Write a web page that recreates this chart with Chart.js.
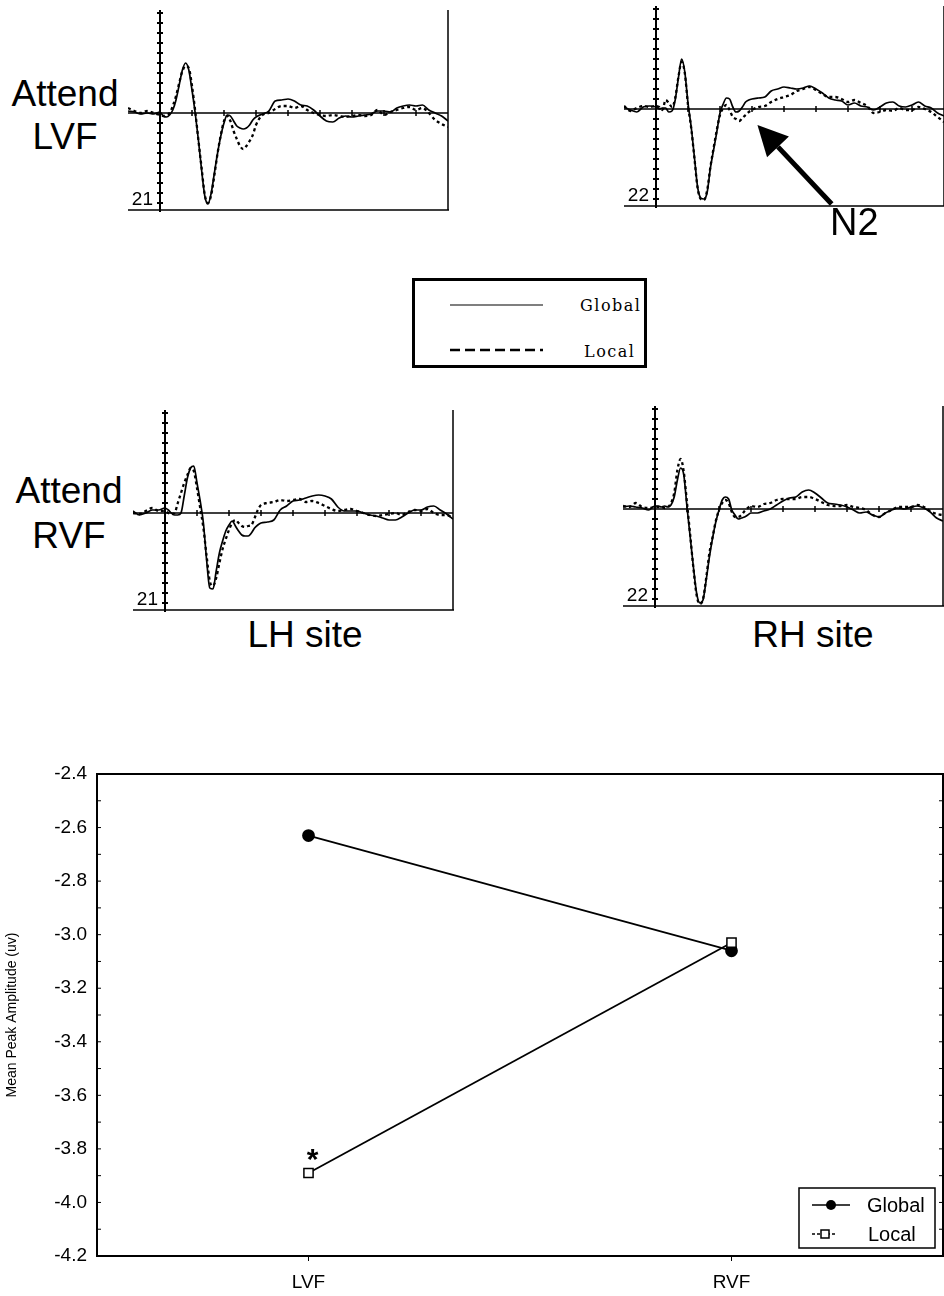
<!DOCTYPE html>
<html>
<head>
<meta charset="utf-8">
<title>N2 amplitude: global vs local</title>
<script src="https://cdn.jsdelivr.net/npm/chart.js@4.4.1/dist/chart.umd.min.js"></script>
<style>
  html, body { margin: 0; padding: 0; background: #fff; }
  body { width: 944px; height: 1296px; position: relative; overflow: hidden;
         font-family: 'Liberation Sans', Arial, sans-serif; color: #000; }
  canvas { position: absolute; }
  .cond { position: absolute; width: 136px; text-align: center; font-size: 37px; }
  .site { position: absolute; width: 200px; text-align: center; font-size: 37px; line-height: 43px; }
  #n2 { position: absolute; left: 830px; top: 202px; font-size: 38px; line-height: 40px; z-index: 2; }
  #key { position: absolute; left: 412px; top: 278px; }
</style>
</head>
<body>

<div class="cond" style="left:-3px; top:72px; line-height:43px;">Attend<br>LVF</div>
<div class="cond" style="left:1px; top:468px; line-height:45px;">Attend<br>RVF</div>
<div class="site" style="left:205px; top:613px;">LH site</div>
<div class="site" style="left:713px; top:613px;">RH site</div>
<div id="n2">N2</div>

<svg id="key" width="236" height="91" xmlns="http://www.w3.org/2000/svg">
  <rect x="1.5" y="1.5" width="232" height="87" fill="#fff" stroke="#000" stroke-width="3"/>
  <line x1="38" y1="27" x2="131" y2="27" stroke="#000" stroke-width="1.2"/>
  <line x1="38" y1="72" x2="131" y2="72" stroke="#000" stroke-width="2.5" stroke-dasharray="10 5"/>
  <text x="168" y="33" font-family="'DejaVu Serif', serif" font-size="16" letter-spacing="1.5">Global</text>
  <text x="172" y="79" font-family="'DejaVu Serif', serif" font-size="16" letter-spacing="1.5">Local</text>
</svg>

<canvas id="lvfLh"></canvas>
<canvas id="lvfRh"></canvas>
<canvas id="rvfLh"></canvas>
<canvas id="rvfRh"></canvas>
<canvas id="amplitude"></canvas>

<script>
/* ----- waveform data (ms, amplitude in axis ticks) ----- */
const times = [-100, -80, -60, -40, -20,
  0, 10, 20, 30, 40, 50, 60, 70, 80, 90,
  100, 110, 120, 130, 140, 150, 160, 170, 180, 190,
  200, 210, 220, 230, 240, 250, 260, 270, 280, 290,
  300,
  320, 340, 360, 380, 400, 420, 440, 460, 480, 500,
  520, 540, 560, 580, 600, 620, 640, 660, 680, 700,
  720, 740, 760, 780, 800, 820, 840, 860, 880, 900];

const lvfLhGlobal = [0.2, 0.1, -0.1, 0, -0.1,
  0.1, -0.3, -0.4, -0.2, 0.3, 1.3, 2.8, 4.3, 5.0, 4.3,
  2.3, 0, -2.7, -5.7, -8.3, -9.1, -8.0, -6.0, -4.0, -2.3,
  -1.0, -0.2, -0.3, -0.8, -1.3, -1.5, -1.6, -1.5, -1.2, -0.7,
  -0.4,
  -0.1, 0.2, 1.2, 1.3, 1.4, 1.2, 0.8, 0.7, 0.3, -0.3,
  -0.8, -0.9, -0.5, -0.3, -0.4, -0.3, -0.2, -0.1, 0.2, 0.2,
  0.1, 0.5, 0.7, 0.8, 0.7, 0.8, 0.3, 0, -0.3, -0.8];
const lvfLhLocal = [0.5, 0.2, 0, 0.2, 0,
  -0.2, -0.3, -0.2, 0, 0.7, 1.7, 3.0, 4.2, 4.7, 4.5,
  2.7, 0.2, -2.7, -5.5, -8.2, -9.0, -8.2, -6.2, -4.0, -2.2,
  -0.8, -0.3, -0.8, -1.8, -2.6, -3.3, -3.6, -3.3, -2.8, -2.2,
  -1.2,
  -0.2, 0, 0.4, 0.7, 0.7, 0.5, 0.7, 0.3, 0, -0.2,
  -0.3, -0.2, -0.3, -0.4, -0.3, -0.2, -0.3, -0.2, 0.3, -0.2,
  0.1, 0.3, 0.5, 0.6, 0.3, 0.5, 0, -0.7, -1.1, -1.4];

const lvfRhGlobal = [0.2, -0.1, -0.3, 0.2, 0.3,
  0.2, 0, 0.1, 0.1, -0.3, -0.2, 0.9, 3.1, 5.0, 3.7,
  0.6, -1.8, -4.8, -7.8, -8.9, -9.0, -8.3, -5.9, -4.1, -2.3,
  -0.4, 0.5, 1.1, 1.0, 0.2, -0.3, -0.2, 0.2, 0.7, 0.9,
  1.0,
  1.1, 1.2, 1.8, 2.0, 2.2, 2.1, 2.0, 2.1, 2.3, 2.0,
  1.6, 1.1, 0.9, 0.8, 0.4, 0.6, 0.3, 0.2, -0.1, 0.2,
  0.6, 0.7, 0.3, 0.2, 0.4, 0.7, 0.3, 0.1, -0.4, -0.7];
const lvfRhLocal = [0.3, -0.2, 0.1, 0.3, 0.2,
  0.3, 0.2, -0.1, 0.9, 0.6, 0.2, 1.1, 3.2, 4.7, 3.6,
  0.4, -1.9, -4.9, -7.9, -9.0, -9.1, -8.1, -5.8, -3.9, -2.1,
  -0.6, 0.1, 0.4, -0.1, -0.8, -1.0, -1.2, -0.9, -0.6, -0.3,
  -0.1,
  0.2, 0.3, 0.7, 1.0, 1.2, 1.4, 1.8, 2.0, 2.2, 1.9,
  1.5, 1.2, 1.2, 1.0, 0.7, 0.9, 0.6, 0.3, -0.4, -0.3,
  -0.1, -0.2, 0.1, -0.1, -0.1, 0.2, 0, -0.3, -0.8, -1.3];

const rvfLhGlobal = [0.2, -0.2, 0, 0.3, 0.3,
  0.5, 0.3, 0, -0.2, -0.2, 0, 1.7, 3.5, 4.5, 4.7,
  3.0, 1.2, -1.0, -4.7, -7.5, -7.6, -5.8, -4.0, -2.8, -1.8,
  -1.2, -0.8, -1.3, -1.8, -2.2, -2.3, -2.3, -2.0, -1.5, -1.2,
  -1.0,
  -0.9, -0.7, 0.3, 0.7, 1.2, 1.3, 1.5, 1.7, 1.8, 1.7,
  1.4, 0.6, 0.2, 0.2, 0.2, 0, -0.2, -0.3, -0.5, -0.7,
  -0.7, -0.4, 0, 0.3, 0.3, 0.6, 0.7, 0.3, -0.1, -0.6];
const rvfLhLocal = [0, -0.1, 0.2, 0.5, 0.2,
  0.2, 0, -0.1, 0, 1.0, 2.0, 3.0, 3.8, 4.5, 4.2,
  2.5, 0.5, -1.5, -4.3, -6.8, -7.3, -6.5, -5.0, -3.6, -2.6,
  -1.7, -1.0, -0.7, -1.0, -1.3, -1.4, -1.3, -1.2, -0.5, 0.3,
  0.8,
  1.0, 1.1, 1.3, 1.2, 1.3, 1.4, 1.1, 1.2, 1.0, 0.7,
  0.4, 0.2, 0.3, 0.4, 0.2, 0, -0.2, -0.3, -0.2, -0.1,
  0, -0.2, 0.1, 0.3, 0.2, 0.4, 0, -0.2, -0.2, -0.5];

const rvfRhGlobal = [0.2, 0.3, 0.2, 0.1, -0.1,
  0.3, 0.3, 0.2, 0.3, 0.2, 0.4, 1.2, 2.9, 4.1, 3.4,
  0.2, -2.8, -5.8, -8.4, -9.4, -9.1, -7.1, -4.8, -2.9, -1.3,
  -0.1, 0.9, 1.2, 1.0, -0.1, -0.6, -1.0, -0.9, -0.8, -0.6,
  -0.4,
  -0.4, -0.2, 0, 0.4, 0.8, 1.1, 1.2, 1.7, 1.9, 1.6,
  1.1, 0.6, 0.5, 0.4, 0.2, -0.1, -0.4, -0.3, -0.6, -0.8,
  -0.4, -0.1, 0.1, 0, 0.2, 0.3, 0.1, -0.3, -0.9, -1.2];
const rvfRhLocal = [0.3, 0.2, 0.6, 0.2, 0.1,
  0.2, 0.2, 0.2, 0.1, 0.2, 0.6, 1.6, 3.9, 5.0, 3.7,
  0.6, -2.6, -5.9, -8.6, -9.5, -9.0, -6.9, -4.4, -2.8, -1.2,
  -0.1, 0.6, 0.9, 0.6, -0.3, -0.8, -0.8, -0.6, -0.2, 0.1,
  0.3,
  0.2, 0.5, 0.6, 0.9, 1.0, 1.0, 1.0, 1.2, 1.2, 1.0,
  0.7, 0.4, 0.3, 0.3, 0.4, 0.2, 0.1, -0.1, -0.6, -0.8,
  -0.4, -0.1, 0.2, 0.2, 0.2, 0.4, 0.2, -0.2, -0.5, -0.6];

const ampTicks = [-9, -8, -7, -6, -5, -4, -3, -2, -1, 1, 2, 3, 4, 5, 6, 7, 8, 9, 10];
const timeTicks = [100, 200, 300, 400, 500, 600, 700, 800];

/* ----- mean N2 peak amplitude ----- */
const fields = ['LVF', 'RVF'];
const globalAmp = [-2.63, -3.06];
const localAmp = [-3.89, -3.03];

Chart.defaults.font.family = "'Liberation Sans', Arial, sans-serif";
Chart.defaults.color = '#000';

// axes of a single ERP panel: baseline, onset axis with cross ticks, frame
const erpFrame = {
  id: 'erpFrame',
  beforeDatasetsDraw(chart, args, opts) {
    const { ctx, scales: { x, y } } = chart;
    const x0 = x.getPixelForValue(0), y0 = y.getPixelForValue(0);
    const xl = x.getPixelForValue(x.min), xr = x.getPixelForValue(x.max);
    const yb = y.getPixelForValue(y.min), yt = y.getPixelForValue(opts.axisTop);
    ctx.save();
    ctx.strokeStyle = '#000';
    ctx.lineWidth = 1.5;
    ctx.beginPath();
    ctx.moveTo(xl, y0); ctx.lineTo(xr, y0);
    ctx.moveTo(xl, yb); ctx.lineTo(xr + 1, yb);
    ctx.moveTo(xr, yt); ctx.lineTo(xr, yb);
    ctx.stroke();

    ctx.lineWidth = 2;
    ctx.beginPath();
    ctx.moveTo(x0, yt); ctx.lineTo(x0, yb + 2);
    ampTicks.forEach(v => {
      const py = y.getPixelForValue(v);
      ctx.moveTo(x0 - 3, py); ctx.lineTo(x0 + 3, py);
    });
    ctx.stroke();

    ctx.lineWidth = 1.5;
    ctx.beginPath();
    timeTicks.forEach(t => {
      const px = x.getPixelForValue(t);
      ctx.moveTo(px, y0 - 3); ctx.lineTo(px, y0 + 3);
    });
    ctx.stroke();

    ctx.font = "19px 'Liberation Sans', Arial, sans-serif";
    ctx.fillStyle = '#000';
    ctx.textAlign = 'right';
    ctx.textBaseline = 'alphabetic';
    ctx.fillText(opts.scaleLabel, x0 - 7, y.getPixelForValue(-9.2));
    ctx.restore();
  },
  afterDatasetsDraw(chart, args, opts) {
    if (!opts.arrow) return;
    const { ctx, scales: { x, y } } = chart;
    const tx = x.getPixelForValue(opts.arrow.to[0]), ty = y.getPixelForValue(opts.arrow.to[1]);
    const fx = x.getPixelForValue(opts.arrow.from[0]), fy = y.getPixelForValue(opts.arrow.from[1]);
    const ang = Math.atan2(ty - fy, tx - fx);
    const head = 30, half = 15;
    const bx = tx - head * Math.cos(ang), by = ty - head * Math.sin(ang);
    ctx.save();
    ctx.strokeStyle = '#000';
    ctx.fillStyle = '#000';
    ctx.lineWidth = 5;
    ctx.beginPath();
    ctx.moveTo(fx, fy); ctx.lineTo(bx, by);
    ctx.stroke();
    ctx.beginPath();
    ctx.moveTo(tx, ty);
    ctx.lineTo(bx + half * Math.sin(ang), by - half * Math.cos(ang));
    ctx.lineTo(bx - half * Math.sin(ang), by + half * Math.cos(ang));
    ctx.closePath();
    ctx.fill();
    ctx.restore();
  }
};

const PAD = 14;
function makePanel(id, left, top, globalVals, localVals, label, arrow) {
  const cv = document.getElementById(id);
  cv.width = 320 + 2 * PAD;
  cv.height = 197 + 2 * PAD;
  cv.style.left = (left - PAD) + 'px';
  cv.style.top = (top - PAD) + 'px';
  return new Chart(cv, {
    type: 'line',
    data: {
      labels: times,
      datasets: [
        { label: 'Global', data: globalVals, borderColor: '#000', borderWidth: 1.7 },
        { label: 'Local', data: localVals, borderColor: '#000', borderWidth: 2.3, borderDash: [3, 3] }
      ]
    },
    options: {
      responsive: false,
      animation: false,
      events: [],
      layout: { padding: PAD },
      elements: { point: { radius: 0 }, line: { cubicInterpolationMode: 'monotone' } },
      scales: {
        x: { type: 'linear', min: -100, max: 900, display: false },
        y: { min: -9.7, max: 10, display: false }
      },
      plugins: {
        legend: { display: false },
        tooltip: { enabled: false },
        erpFrame: { axisTop: 10.3, scaleLabel: label, arrow: arrow }
      }
    },
    plugins: [erpFrame]
  });
}

makePanel('lvfLh', 128, 13, lvfLhGlobal, lvfLhLocal, '21', null);
makePanel('lvfRh', 624, 9, lvfRhGlobal, lvfRhLocal, '22', { from: [549, -9.5], to: [317, -1.6] });
makePanel('rvfLh', 133, 413, rvfLhGlobal, rvfLhLocal, '21', null);
makePanel('rvfRh', 623, 409, rvfRhGlobal, rvfRhLocal, '22', null);

// closed frame, inward minor ticks, significance mark and key for the means plot
const plotFrame = {
  id: 'plotFrame',
  afterDraw(chart, args, opts) {
    const { ctx, chartArea: a, scales: { y } } = chart;
    ctx.save();
    ctx.strokeStyle = '#000';
    ctx.fillStyle = '#000';
    ctx.lineWidth = 2;
    ctx.strokeRect(a.left, a.top, a.right - a.left, a.bottom - a.top);

    ctx.lineWidth = 1;
    ctx.beginPath();
    y.ticks.forEach(t => {
      const py = y.getPixelForValue(t.value);
      if (py <= a.top + 1 || py >= a.bottom - 1) return;
      ctx.moveTo(a.left, py); ctx.lineTo(a.left + 4, py);
      ctx.moveTo(a.right - 4, py); ctx.lineTo(a.right, py);
    });
    ctx.stroke();

    const pt = chart.getDatasetMeta(opts.markDataset).data[opts.markIndex];
    ctx.font = "bold 30px 'Liberation Sans', Arial, sans-serif";
    ctx.textAlign = 'center';
    ctx.textBaseline = 'alphabetic';
    ctx.fillText('*', pt.x + 4, pt.y - 4);

    // key
    const kr = a.right - 8, kl = kr - 136, kb = a.bottom - 8, kt = kb - 60;
    ctx.lineWidth = 1.5;
    ctx.strokeRect(kl, kt, kr - kl, kb - kt);
    const r1 = kt + 17, r2 = kt + 46;
    ctx.beginPath();
    ctx.moveTo(kl + 13, r1); ctx.lineTo(kl + 51, r1);
    ctx.stroke();
    ctx.beginPath();
    ctx.arc(kl + 32, r1, 5, 0, Math.PI * 2);
    ctx.fill();
    ctx.setLineDash([3, 2]);
    ctx.beginPath();
    ctx.moveTo(kl + 13, r2); ctx.lineTo(kl + 36, r2);
    ctx.stroke();
    ctx.setLineDash([]);
    ctx.fillStyle = '#fff';
    ctx.fillRect(kl + 22, r2 - 4, 8, 8);
    ctx.strokeRect(kl + 22, r2 - 4, 8, 8);
    ctx.fillStyle = '#000';
    ctx.font = "20px 'Liberation Sans', Arial, sans-serif";
    ctx.textAlign = 'left';
    ctx.fillText(chart.data.datasets[0].label, kl + 68, r1 + 7);
    ctx.fillText(chart.data.datasets[1].label, kl + 69, r2 + 7);
    ctx.restore();
  }
};

const ampCanvas = document.getElementById('amplitude');
ampCanvas.width = 951;
ampCanvas.height = 556;
ampCanvas.style.left = '0px';
ampCanvas.style.top = '740px';

new Chart(ampCanvas, {
  type: 'line',
  data: {
    labels: fields,
    datasets: [
      {
        label: 'Global', data: globalAmp, order: 1,
        borderColor: '#000', borderWidth: 1.8,
        pointStyle: 'circle', pointRadius: 5.5,
        pointBackgroundColor: '#000', pointBorderColor: '#000'
      },
      {
        label: 'Local', data: localAmp, order: 0,
        borderColor: '#000', borderWidth: 1.8,
        pointStyle: 'rect', pointRadius: 6.5, pointBorderWidth: 1.5,
        pointBackgroundColor: '#fff', pointBorderColor: '#000'
      }
    ]
  },
  options: {
    responsive: false,
    animation: false,
    events: [],
    layout: { padding: { top: 34, right: 1, bottom: 0, left: 0 } },
    scales: {
      x: {
        offset: true,
        afterFit(s) { s.height = 40; },
        grid: { drawOnChartArea: false, offset: false, tickLength: 5, color: '#000' },
        border: { color: '#000', width: 2 },
        ticks: { font: { size: 19 }, padding: 10, color: '#000' }
      },
      y: {
        min: -4.2,
        max: -2.4,
        afterFit(s) { s.width = 97; },
        grid: { drawOnChartArea: false, drawTicks: false },
        border: { color: '#000', width: 2 },
        ticks: {
          stepSize: 0.1,
          autoSkip: false,
          padding: 10,
          font: { size: 19 },
          color: '#000',
          callback: v => (Math.round(v * 10) % 2 === 0 ? v.toFixed(1) : '')
        },
        title: {
          display: true,
          text: 'Mean Peak Amplitude (uv)',
          font: { size: 14 },
          color: '#000',
          padding: { top: 4, bottom: 0 }
        }
      }
    },
    plugins: {
      legend: { display: false },
      tooltip: { enabled: false },
      plotFrame: { markDataset: 1, markIndex: 0 }
    }
  },
  plugins: [plotFrame]
});
</script>
</body>
</html>
